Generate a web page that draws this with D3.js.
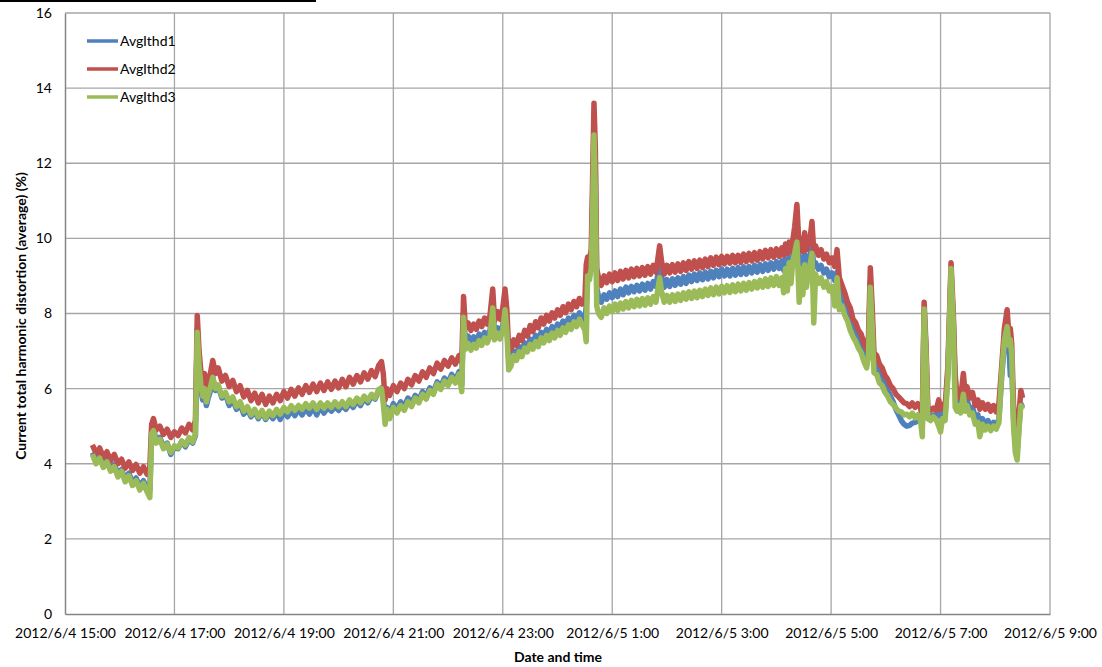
<!DOCTYPE html>
<html>
<head>
<meta charset="utf-8">
<script src="https://cdn.jsdelivr.net/npm/d3@7"></script>
<style>
  html, body { margin: 0; padding: 0; background: #ffffff; }
  svg { display: block; }
  text { font-family: Lato, "Open Sans", sans-serif; fill: #000; }
</style>
</head>
<body>
<svg id="chart" width="1102" height="667"></svg>
<script>
// ---------------- DATA ----------------
const seriesNames = ["AvgIthd1", "AvgIthd2", "AvgIthd3"];
const seriesColors = ["#4F81BD", "#C0504D", "#9BBB59"];
const startTime = new Date(2012, 5, 4, 15, 0);
const endTime = new Date(2012, 5, 5, 9, 0);
const yTicks = [0, 2, 4, 6, 8, 10, 12, 14, 16];
const xTickHours = [0, 2, 4, 6, 8, 10, 12, 14, 16, 18]; // hours after 15:00

// minutes after 2012/6/4 15:00
const minutes = [
30,34,38,42,46,50,54,58,62,66,70,74,78,82,86,90,93,
95,97,100,104,108,112,116,120,124,128,132,136,140,143,
145,147,149,151,153,155,157,159,162,165,168,172,176,180,184,188,192,196,200,204,208,212,216,220,224,228,232,236,240,244,248,252,256,260,264,268,272,276,280,284,288,292,296,300,304,308,312,316,320,324,328,332,336,340,344,347,349,
351,353,356,360,364,368,372,376,380,384,388,392,396,400,404,408,412,416,420,424,428,432,435,
437,439,442,445,448,451,454,457,460,463,466,469,471,474,477,480,482.5,484.5,486.5,489,492,495,498,501,504,507,510,513,516,519,522,525,528,531,534,537,540,543,546,549,552,555,558,561,564,567,570,
571.5,573,575,577,578.5,580,581.5,583,585,588,591,594,597,600,603,606,609,612,615,618,621,624,627,630,633,636,639,642,645,648,650,652,654,657,660,663,666,669,672,675,678,681,684,687,690,693,696,699,702,705,708,711,714,717,720,723,726,729,732,735,738,741,744,747,750,753,756,759,762,765,768,771,774,777,780,783,786,788,790,792,794,796,798,800,802.5,805,807,809,811,813,815,817,819,821,823,826,829,832,835,838,841,844,846.5,849,852,855,858,861,864,867,870,873,876,879,881,883,885,887,890,893,896,899,902,905,908,911,914,917,920,923,926,929,932,935,938,940,942,944,946,949,952,955,958,960,962,965,968,971.5,974,976,978,980,982,985,987,989,992,995,998,1001,1003,1006,1009,1012,1015,1018,1021,1024,1027,1030,1033,1035,1036.5,1038,1040,1042,1044,1046,1048,1050
];

const avgIthd2 = [ // red
4.50,4.28,4.42,4.18,4.32,4.08,4.25,4.00,4.12,3.88,4.05,3.82,3.98,3.75,3.92,3.72,3.90,
5.05,5.20,4.90,5.00,4.78,4.92,4.70,4.85,4.75,4.95,4.82,5.05,4.90,5.15,
7.95,7.00,6.45,6.20,6.40,6.00,6.25,6.35,6.75,6.40,6.55,6.20,6.35,6.05,6.22,5.92,6.08,5.78,5.95,5.68,5.88,5.62,5.85,5.58,5.80,5.62,5.85,5.68,5.92,5.75,5.98,5.80,6.02,5.85,6.08,5.90,6.12,5.92,6.15,5.95,6.18,5.98,6.20,6.02,6.25,6.05,6.30,6.12,6.35,6.18,6.42,6.25,6.48,6.32,6.62,6.72,6.40,
5.70,6.00,5.82,6.08,5.92,6.15,6.00,6.25,6.10,6.35,6.20,6.45,6.30,6.55,6.40,6.68,6.52,6.75,6.60,6.82,6.65,6.88,6.70,
8.45,7.60,7.75,7.55,7.72,7.58,7.80,7.65,7.88,7.72,7.95,8.65,7.80,8.05,7.85,8.15,8.65,8.10,7.00,7.05,7.30,7.15,7.42,7.28,7.55,7.40,7.68,7.52,7.78,7.62,7.88,7.72,7.95,7.80,8.02,7.88,8.10,7.95,8.18,8.02,8.25,8.10,8.32,8.18,8.40,8.25,8.35,
9.30,9.50,9.40,9.70,11.60,13.60,12.40,9.20,8.95,8.75,9.00,8.82,9.05,8.85,9.08,8.88,9.12,8.92,9.15,8.95,9.18,8.98,9.20,9.00,9.22,9.02,9.25,9.05,9.28,9.10,9.45,9.80,9.40,9.05,9.28,9.08,9.30,9.10,9.32,9.12,9.35,9.15,9.38,9.18,9.40,9.20,9.42,9.22,9.45,9.25,9.48,9.28,9.50,9.30,9.52,9.32,9.52,9.34,9.55,9.35,9.55,9.36,9.58,9.38,9.60,9.40,9.62,9.42,9.65,9.45,9.68,9.48,9.70,9.50,9.72,9.52,9.75,9.55,9.85,9.60,9.90,9.65,9.95,10.30,10.90,9.70,10.00,9.65,10.15,9.70,9.90,10.00,10.45,9.65,9.80,9.55,9.70,9.45,9.58,9.35,9.48,9.25,9.70,8.95,8.75,8.55,8.30,8.15,7.85,7.75,7.55,7.45,7.20,7.05,7.40,9.22,8.20,6.95,6.88,6.65,6.55,6.35,6.25,6.08,6.00,5.85,5.78,5.70,5.62,5.60,5.52,5.62,5.50,5.60,5.48,5.25,8.30,7.20,5.50,5.42,5.48,5.42,5.70,5.45,5.58,5.50,6.60,9.35,8.00,6.40,5.80,5.95,5.75,6.40,5.85,6.05,5.75,5.90,5.55,5.70,5.45,5.62,5.45,5.58,5.40,5.55,5.38,5.60,6.60,7.60,8.10,7.40,7.60,7.20,5.60,4.80,4.60,5.30,5.95,5.75
];

const avgIthd1 = [ // blue
4.30,4.12,4.22,3.98,4.10,3.85,3.98,3.72,3.85,3.58,3.75,3.50,3.62,3.40,3.55,3.35,3.28,
4.85,4.95,4.62,4.70,4.45,4.55,4.25,4.45,4.40,4.60,4.45,4.65,4.55,4.75,
7.60,6.70,5.95,5.70,5.90,5.55,5.75,5.90,6.30,5.95,6.05,5.75,5.85,5.55,5.70,5.45,5.58,5.32,5.45,5.25,5.40,5.20,5.38,5.18,5.35,5.20,5.38,5.18,5.40,5.25,5.42,5.28,5.45,5.30,5.48,5.32,5.50,5.30,5.52,5.35,5.50,5.40,5.52,5.42,5.55,5.45,5.62,5.50,5.68,5.55,5.75,5.62,5.80,5.72,5.95,6.02,5.75,
5.30,5.50,5.35,5.60,5.45,5.65,5.52,5.75,5.62,5.82,5.70,5.92,5.80,6.02,5.92,6.18,6.05,6.28,6.15,6.38,6.22,6.45,6.10,
8.00,7.25,7.40,7.20,7.38,7.25,7.45,7.30,7.50,7.38,7.55,8.20,7.45,7.62,7.45,7.70,8.20,7.70,6.75,6.80,7.00,6.88,7.12,6.98,7.22,7.10,7.32,7.20,7.42,7.28,7.50,7.38,7.58,7.45,7.65,7.52,7.72,7.60,7.80,7.68,7.88,7.75,7.95,7.82,8.02,7.90,7.80,
8.20,9.10,9.00,9.30,11.00,13.00,11.80,8.70,8.45,8.30,8.50,8.38,8.55,8.42,8.60,8.45,8.65,8.50,8.70,8.55,8.72,8.58,8.75,8.60,8.78,8.62,8.80,8.65,8.85,8.72,9.05,9.35,9.00,8.70,8.90,8.72,8.92,8.75,8.95,8.78,8.98,8.80,9.02,8.85,9.05,8.88,9.08,8.90,9.10,8.92,9.12,8.95,9.15,8.98,9.18,9.00,9.18,9.00,9.20,9.02,9.22,9.04,9.24,9.05,9.25,9.08,9.28,9.10,9.30,9.12,9.32,9.15,9.35,9.18,9.38,9.20,9.40,9.15,9.45,9.25,9.50,9.30,9.55,9.80,10.10,9.25,9.50,9.20,9.60,9.30,9.45,9.55,9.80,9.25,9.35,9.18,9.28,9.08,9.18,8.98,9.08,8.88,9.10,8.60,8.45,8.25,8.00,7.85,7.60,7.48,7.30,7.18,7.00,6.85,7.10,8.85,7.80,6.70,6.62,6.42,6.30,6.10,5.98,5.80,5.65,5.45,5.30,5.15,5.05,5.00,5.02,5.08,5.10,5.15,5.20,5.00,8.10,7.00,5.30,5.25,5.30,5.28,5.40,5.25,5.35,5.30,6.40,9.10,7.80,6.10,5.55,5.62,5.50,5.95,5.55,5.70,5.45,5.50,5.25,5.30,5.05,5.20,5.05,5.15,4.98,5.10,5.00,5.20,6.30,7.20,7.70,7.10,6.35,6.70,5.20,4.50,4.30,5.00,5.60,5.50
];

const avgIthd3 = [ // green
4.25,4.00,4.15,3.90,4.05,3.80,3.92,3.65,3.80,3.52,3.68,3.42,3.55,3.30,3.48,3.25,3.10,
4.80,4.88,4.55,4.65,4.40,4.52,4.30,4.48,4.42,4.60,4.50,4.70,4.58,4.80,
7.50,6.60,6.10,5.80,6.00,5.65,5.85,6.00,6.30,6.00,6.10,5.80,5.90,5.65,5.78,5.52,5.65,5.40,5.52,5.30,5.45,5.25,5.42,5.22,5.40,5.28,5.45,5.32,5.50,5.38,5.55,5.42,5.55,5.45,5.60,5.48,5.62,5.45,5.62,5.48,5.62,5.50,5.65,5.52,5.65,5.52,5.70,5.58,5.75,5.62,5.80,5.68,5.85,5.75,5.98,6.00,5.60,
5.05,5.45,5.20,5.50,5.35,5.55,5.42,5.65,5.52,5.75,5.62,5.85,5.72,5.95,5.85,6.12,5.98,6.20,6.08,6.30,6.15,6.38,5.92,
7.90,7.05,7.20,7.02,7.18,7.08,7.28,7.15,7.35,7.22,7.40,8.15,7.30,7.48,7.32,7.55,8.10,7.50,6.50,6.60,6.88,6.75,6.98,6.85,7.08,6.98,7.18,7.05,7.25,7.12,7.35,7.22,7.42,7.28,7.48,7.35,7.55,7.42,7.62,7.50,7.70,7.58,7.78,7.65,7.85,7.70,7.55,
7.25,9.00,8.90,9.20,10.60,12.75,11.20,8.20,8.00,7.90,8.15,8.00,8.20,8.05,8.25,8.08,8.28,8.12,8.32,8.15,8.35,8.18,8.38,8.20,8.40,8.22,8.42,8.25,8.45,8.30,8.65,8.95,8.60,8.30,8.48,8.30,8.50,8.32,8.52,8.35,8.55,8.38,8.58,8.40,8.60,8.42,8.62,8.45,8.65,8.48,8.68,8.50,8.70,8.52,8.72,8.55,8.74,8.56,8.76,8.58,8.78,8.60,8.80,8.62,8.82,8.65,8.85,8.68,8.88,8.70,8.92,8.72,8.95,8.75,8.98,8.75,8.95,8.55,9.20,8.60,9.35,8.80,9.40,9.60,9.90,8.30,9.20,8.50,9.30,8.70,9.10,9.30,9.60,7.75,9.05,8.80,8.95,8.70,8.85,8.60,8.72,8.20,8.95,8.10,8.20,7.95,7.80,7.55,7.38,7.25,7.08,6.95,6.72,6.55,6.90,8.70,7.65,6.42,6.38,6.15,6.08,5.90,5.80,5.65,5.58,5.48,5.40,5.38,5.30,5.32,5.25,5.35,5.22,5.30,5.15,4.72,8.12,6.90,5.20,5.15,5.25,5.18,5.00,4.85,5.20,5.15,6.30,9.20,7.70,5.50,5.40,5.55,5.35,5.85,5.40,5.55,5.30,5.35,5.05,5.10,4.72,5.05,4.90,5.00,4.88,5.00,4.92,5.10,6.40,7.30,7.65,7.15,7.30,6.90,5.00,4.30,4.10,4.90,5.55,5.45
];

// ---------------- CHART ----------------
const svg = d3.select("#chart");
const plot = { left: 65, right: 1050, top: 13, bottom: 614 };

const x = d3.scaleTime().domain([startTime, endTime]).range([plot.left, plot.right]);
const y = d3.scaleLinear().domain([0, 16]).range([plot.bottom, plot.top]);

// top decorative black rule
svg.append("rect").attr("x", 0).attr("y", 0).attr("width", 316).attr("height", 2).attr("fill", "#000");

const xTickValues = xTickHours.map(h => new Date(startTime.getTime() + h * 3600000));
const pad2 = n => (n < 10 ? "0" : "") + n;
const fmt = d => `${d.getFullYear()}/${d.getMonth() + 1}/${d.getDate()} ${d.getHours()}:${pad2(d.getMinutes())}`;

// gridlines
const grid = svg.append("g");
grid.selectAll("line.h").data(yTicks.filter(v => v > 0)).enter().append("line")
  .attr("x1", plot.left).attr("x2", plot.right)
  .attr("y1", d => y(d)).attr("y2", d => y(d))
  .attr("stroke", "#a6a6a6").attr("stroke-width", 1.3);
grid.selectAll("line.v").data(xTickValues.slice(1)).enter().append("line")
  .attr("x1", d => x(d)).attr("x2", d => x(d))
  .attr("y1", plot.top).attr("y2", plot.bottom)
  .attr("stroke", "#a6a6a6").attr("stroke-width", 1.3);

// series lines
const seriesData = [avgIthd1, avgIthd2, avgIthd3];
const line = d3.line()
  .x((d, i) => x(new Date(startTime.getTime() + minutes[i] * 60000)))
  .y(d => y(d));
seriesData.forEach((vals, k) => {
  svg.append("path").datum(vals)
    .attr("d", line)
    .attr("fill", "none")
    .attr("stroke", seriesColors[k])
    .attr("stroke-width", 5.5)
    .attr("stroke-linejoin", "round");
});

// axes
const xAxis = d3.axisBottom(x).tickValues(xTickValues).tickFormat(fmt).tickSize(0).tickPadding(14);
const gx = svg.append("g").attr("transform", `translate(0,${plot.bottom})`).call(xAxis);
gx.select(".domain").attr("stroke", "#868686").attr("stroke-width", 1.5);
gx.selectAll("text").attr("font-family", "Lato, sans-serif").attr("font-size", 14).attr("fill", "#000");

const yAxis = d3.axisLeft(y).tickValues(yTicks).tickSize(0).tickPadding(13);
const gy = svg.append("g").attr("transform", `translate(${plot.left},0)`).call(yAxis);
gy.select(".domain").attr("stroke", "#868686").attr("stroke-width", 1.5);
gy.selectAll("text").attr("font-family", "Lato, sans-serif").attr("font-size", 14).attr("fill", "#000");

// legend
const lg = svg.append("g");
seriesNames.forEach((name, k) => {
  const ly = 41 + k * 28;
  lg.append("line").attr("x1", 87).attr("x2", 118).attr("y1", ly).attr("y2", ly)
    .attr("stroke", seriesColors[k]).attr("stroke-width", 3.5);
  lg.append("text").attr("x", 120).attr("y", ly + 5).attr("font-size", 14).text(name);
});

// axis titles
svg.append("text").attr("x", 558).attr("y", 662).attr("text-anchor", "middle")
  .attr("font-weight", "bold").attr("font-size", 14).text("Date and time");
svg.append("text").attr("transform", "translate(26,316) rotate(-90)").attr("text-anchor", "middle")
  .attr("font-weight", "bold").attr("font-size", 14)
  .text("Current total harmonic distortion (average) (%)");
</script>
</body>
</html>
